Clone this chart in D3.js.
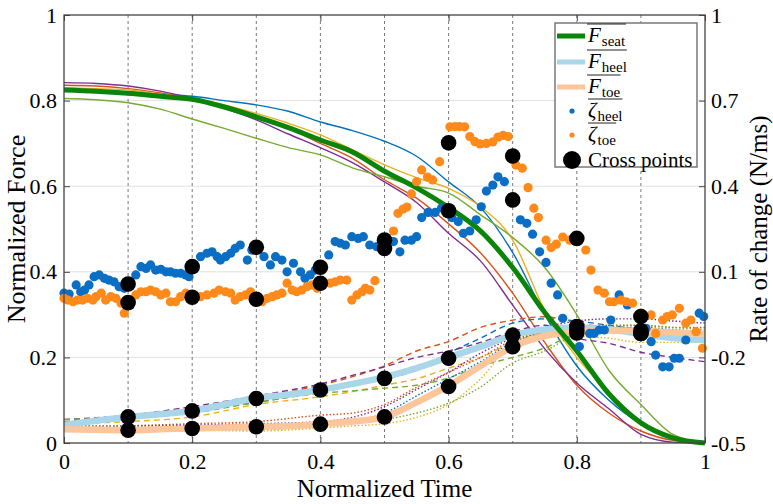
<!DOCTYPE html>
<html><head><meta charset="utf-8">
<script src="https://cdn.jsdelivr.net/npm/d3@7/dist/d3.min.js"></script>
<style>body{margin:0;background:#fff}svg{display:block}</style>
</head><body>
<svg id="c" width="773" height="504"></svg>
<script>
// ---------- DATA ----------
const tSeat = [0,0.05,0.1,0.15,0.2,0.25,0.3,0.35,0.4,0.45,0.5,0.55,0.6,0.65,0.7,0.75,0.8,0.85,0.9,0.95,1];
const seatMean   = [0.825,0.822,0.817,0.81,0.803,0.785,0.762,0.737,0.708,0.68,0.635,0.596,0.55,0.495,0.41,0.305,0.215,0.115,0.047,0.012,0];
const seatBlue   = [0.825,0.823,0.82,0.815,0.81,0.80,0.79,0.775,0.75,0.73,0.705,0.67,0.61,0.55,0.445,0.3,0.18,0.1,0.045,0.012,0];
const seatRed    = [0.836,0.834,0.828,0.818,0.805,0.788,0.765,0.735,0.70,0.665,0.615,0.572,0.512,0.444,0.35,0.235,0.135,0.07,0.028,0.006,0];
const seatYellow = [0.83,0.828,0.825,0.815,0.805,0.79,0.77,0.747,0.72,0.685,0.65,0.62,0.595,0.552,0.474,0.31,0.2,0.12,0.05,0.015,0];
const seatPurple = [0.842,0.84,0.834,0.822,0.805,0.782,0.755,0.722,0.69,0.655,0.61,0.562,0.49,0.425,0.322,0.22,0.14,0.08,0.02,0.002,0];
const seatGreen  = [0.805,0.802,0.795,0.78,0.757,0.735,0.712,0.69,0.673,0.643,0.622,0.6,0.584,0.533,0.48,0.41,0.30,0.17,0.09,0.02,0];
const heelMean = [0.042,0.052,0.061,0.067,0.075,0.09,0.105,0.113,0.124,0.138,0.154,0.175,0.2,0.225,0.252,0.265,0.27,0.265,0.255,0.245,0.24];
const toeMean  = [0.032,0.031,0.03,0.032,0.034,0.036,0.038,0.04,0.044,0.05,0.061,0.095,0.134,0.18,0.225,0.25,0.26,0.263,0.262,0.258,0.255];

const tFoot = [0,0.1,0.2,0.3,0.4,0.45,0.5,0.55,0.6,0.65,0.7,0.75,0.8,0.85,0.9,0.95,1];
const heelBlue   = [0.045,0.06,0.075,0.095,0.12,0.135,0.15,0.17,0.21,0.245,0.28,0.29,0.285,0.275,0.265,0.26,0.26];
const heelRed    = [0.05,0.062,0.08,0.105,0.135,0.155,0.18,0.215,0.237,0.27,0.287,0.295,0.28,0.27,0.265,0.26,0.25];
const heelPurple = [0.055,0.065,0.085,0.11,0.138,0.158,0.178,0.2,0.215,0.235,0.26,0.275,0.245,0.233,0.212,0.2,0.19];
const heelYellow = [0.045,0.05,0.061,0.09,0.108,0.12,0.135,0.15,0.175,0.2,0.235,0.26,0.27,0.27,0.265,0.26,0.255];
const heelGreen  = [0.055,0.06,0.07,0.095,0.116,0.122,0.128,0.135,0.152,0.18,0.2,0.222,0.255,0.26,0.255,0.25,0.245];
const toeRed    = [0.035,0.04,0.045,0.05,0.065,0.07,0.09,0.13,0.165,0.2,0.24,0.26,0.27,0.275,0.275,0.27,0.27];
const toePurple = [0.04,0.04,0.042,0.045,0.05,0.06,0.085,0.125,0.165,0.21,0.245,0.27,0.285,0.29,0.29,0.285,0.28];
const toeBlue   = [0.03,0.028,0.03,0.032,0.04,0.05,0.07,0.11,0.15,0.19,0.235,0.26,0.27,0.27,0.27,0.265,0.26];
const toeYellow = [0.035,0.032,0.03,0.028,0.035,0.04,0.045,0.06,0.09,0.15,0.233,0.255,0.25,0.245,0.235,0.235,0.235];
const toeGreen  = [0.04,0.038,0.036,0.035,0.04,0.045,0.055,0.07,0.093,0.131,0.187,0.215,0.255,0.27,0.275,0.27,0.265];

const zetaHeelT = [0,0.008,0.019,0.026,0.032,0.039,0.047,0.055,0.063,0.070,0.078,0.086,0.094,0.102,0.112,0.120,0.128,0.135,0.143,0.151,0.159,0.166,0.174,0.182,0.190,0.195,0.203,0.213,0.223,0.231,0.239,0.244,0.252,0.260,0.267,0.275,0.286,0.293,0.301,0.312,0.322,0.330,0.340,0.348,0.358,0.369,0.376,0.384,0.392,0.400,0.413,0.423,0.431,0.439,0.449,0.459,0.467,0.477,0.488,0.501,0.514,0.524,0.532,0.542,0.550,0.558,0.568,0.579,0.589,0.605,0.615,0.623,0.633,0.643,0.651,0.659,0.669,0.677,0.687,0.701,0.712,0.722,0.731,0.742,0.752,0.760,0.770,0.778,0.804,0.820,0.827,0.835,0.843,0.853,0.866,0.879,0.908,0.916,0.923,0.934,0.944,0.952,0.960,0.970,0.991,0.998];
const zetaHeelR = [0.025,0.022,0.054,0.030,0.036,0.054,0.083,0.089,0.077,0.071,0.065,0.048,0.042,0.060,0.089,0.118,0.112,0.124,0.106,0.109,0.100,0.100,0.095,0.095,0.089,0.083,0.124,0.153,0.165,0.170,0.153,0.141,0.153,0.165,0.182,0.194,0.141,0.176,0.188,0.153,0.124,0.153,0.141,0.100,0.130,0.100,0.077,0.089,0.106,0.118,0.159,0.206,0.200,0.194,0.223,0.217,0.223,0.194,0.188,0.202,0.206,0.170,0.211,0.211,0.223,0.290,0.308,0.308,0.324,0.290,0.276,0.235,0.243,0.282,0.328,0.383,0.404,0.433,0.416,0.345,0.282,0.270,0.232,0.170,0.133,0.060,0.019,-0.063,-0.162,-0.116,-0.116,-0.104,-0.104,-0.069,0.019,-0.016,-0.098,-0.145,-0.192,-0.233,-0.233,-0.203,-0.203,-0.139,-0.045,-0.057];
const zetaToeT = [0,0.006,0.014,0.021,0.029,0.037,0.045,0.050,0.058,0.065,0.073,0.081,0.089,0.094,0.102,0.112,0.120,0.128,0.135,0.143,0.151,0.159,0.166,0.174,0.182,0.190,0.200,0.213,0.223,0.234,0.242,0.252,0.260,0.267,0.275,0.283,0.291,0.301,0.309,0.317,0.325,0.332,0.340,0.348,0.356,0.363,0.371,0.379,0.387,0.395,0.403,0.415,0.423,0.431,0.441,0.449,0.457,0.465,0.470,0.477,0.485,0.514,0.521,0.529,0.535,0.542,0.550,0.558,0.567,0.575,0.586,0.602,0.610,0.617,0.625,0.633,0.641,0.649,0.659,0.669,0.677,0.685,0.693,0.705,0.715,0.724,0.733,0.740,0.752,0.760,0.768,0.778,0.789,0.799,0.814,0.822,0.833,0.843,0.851,0.858,0.869,0.877,0.887,0.900,0.916,0.923,0.934,0.941,0.949,0.960,0.970,0.978,0.986,0.996];
const zetaToeR = [0.007,0.001,-0.005,0.001,0.001,0.007,0.001,0.013,0.025,0.001,0.013,0.007,-0.010,-0.045,-0.005,0.019,0.030,0.030,0.036,0.030,0.019,0.025,-0.005,-0.005,0.013,0.025,0.013,0.013,0.019,0.025,0.036,0.030,0.025,0.001,0.013,0.019,0.030,0.001,-0.005,0.007,0.013,0.019,0.025,0.060,0.036,0.030,0.036,0.048,0.054,0.042,0.057,0.060,0.065,0.071,0.071,0.001,0.019,0.030,0.042,0.036,0.069,0.243,0.305,0.320,0.327,0.373,0.416,0.457,0.432,0.422,0.486,0.608,0.609,0.609,0.608,0.574,0.556,0.548,0.550,0.555,0.572,0.578,0.574,0.474,0.463,0.395,0.323,0.290,0.211,0.185,0.197,0.222,0.211,0.219,0.176,0.106,0.036,0.025,-0.005,-0.005,0.001,-0.005,-0.010,-0.045,-0.051,-0.116,-0.069,-0.057,-0.051,-0.028,-0.080,-0.069,-0.110,-0.168];

const crossT = [0.1,0.2,0.3,0.4,0.5,0.6,0.7,0.8,0.9];
const crossHeelRate  = [0.057,0.118,0.186,0.116,0.211,0.314,0.352,-0.092,-0.116];
const crossToeRate   = [-0.008,0.011,0.004,0.060,0.182,0.552,0.506,0.217,-0.057];
const crossHeelForce = [0.061,0.075,0.104,0.124,0.151,0.198,0.252,0.264,0.256];
const crossToeForce  = [0.030,0.034,0.038,0.044,0.061,0.132,0.225,0.257,0.262];

const xTicks = [0,0.2,0.4,0.6,0.8,1];
const yTicks = [0,0.2,0.4,0.6,0.8,1];
const rTicks = [-0.5,-0.2,0.1,0.4,0.7,1];
const vGrid = [0.1,0.2,0.3,0.4,0.5,0.6,0.7,0.8,0.9];
const hGrid = [0.2,0.4,0.6,0.8];

// ---------- STYLE ----------
const C = {blue:"#0072BD", red:"#D95319", yellow:"#EDB120", purple:"#7E2F8E", green:"#77AC30",
  seat:"#0a850a", heel:"#a9d6e8", toe:"#fcc59a", zHeel:"#0a6fc4", zToe:"#ff8a1a"};
const FONT = "Liberation Serif";
const L = 64, R = 705, T = 15, B = 443;
const txt = (sel, size) => sel.style("font-family", FONT).style("font-size", size + "px");

const svg = d3.select("#c");
const x = d3.scaleLinear([0,1],[L,R]);
const yL = d3.scaleLinear([0,1],[B,T]);
const yR = d3.scaleLinear([-0.5,1],[B,T]);

// grid
svg.append("g").selectAll("line").data(hGrid).join("line")
  .attr("x1",L).attr("x2",R).attr("y1",d=>yL(d)).attr("y2",d=>yL(d))
  .attr("stroke","#e2e2e2").attr("stroke-width",1);
svg.append("g").selectAll("line").data(vGrid).join("line")
  .attr("x1",d=>x(d)).attr("x2",d=>x(d)).attr("y1",T).attr("y2",B)
  .attr("stroke","#6a6a6a").attr("stroke-width",0.9).attr("stroke-dasharray","3,3");

const lineOf = (ts, yScale) => d3.line().x((d,i)=>x(ts[i])).y(d=>yScale(d)).curve(d3.curveMonotoneX);
function drawLine(ts, vals, color, width, dash){
  svg.append("path").datum(vals).attr("d", lineOf(ts,yL)).attr("fill","none")
    .attr("stroke",color).attr("stroke-width",width)
    .attr("stroke-dasharray",dash||null).attr("stroke-linejoin","round");
}
[[seatBlue,C.blue],[seatRed,C.red],[seatYellow,C.yellow],[seatPurple,C.purple],[seatGreen,C.green]]
  .forEach(([v,c])=>drawLine(tSeat,v,c,1.4));
[[heelBlue,C.blue],[heelRed,C.red],[heelYellow,C.yellow],[heelPurple,C.purple],[heelGreen,C.green]]
  .forEach(([v,c])=>drawLine(tFoot,v,c,1.4,"6,4"));
[[toeBlue,C.blue],[toeRed,C.red],[toeYellow,C.yellow],[toePurple,C.purple],[toeGreen,C.green]]
  .forEach(([v,c])=>drawLine(tFoot,v,c,1.4,"1.5,2"));
drawLine(tSeat, heelMean, C.heel, 6.5);
drawLine(tSeat, toeMean, C.toe, 6.5);
drawLine(tSeat, seatMean, C.seat, 5);

svg.append("g").selectAll("circle").data(d3.zip(zetaHeelT,zetaHeelR)).join("circle")
  .attr("cx",d=>x(d[0])).attr("cy",d=>yR(d[1])).attr("r",4.6).attr("fill",C.zHeel);
svg.append("g").selectAll("circle").data(d3.zip(zetaToeT,zetaToeR)).join("circle")
  .attr("cx",d=>x(d[0])).attr("cy",d=>yR(d[1])).attr("r",4.6).attr("fill",C.zToe);

const cg = svg.append("g");
[[crossHeelForce,yL],[crossToeForce,yL],[crossHeelRate,yR],[crossToeRate,yR]].forEach(([v,s])=>{
  cg.append("g").selectAll("circle").data(d3.zip(crossT,v)).join("circle")
    .attr("cx",d=>x(d[0])).attr("cy",d=>s(d[1])).attr("r",7.8).attr("fill","#000");
});

// axes
const fmt = d=>String(d);
function styleAxis(g){
  g.select(".domain").remove();
  g.selectAll(".tick line").attr("stroke","#444").attr("stroke-width",1);
  g.selectAll(".tick text").call(txt, 22).attr("fill","#000");
}
svg.append("g").attr("transform",`translate(0,${B})`)
  .call(d3.axisBottom(x).tickValues(xTicks).tickFormat(fmt).tickSize(-6).tickPadding(10)).call(styleAxis);
svg.append("g").attr("transform",`translate(0,${T})`)
  .call(d3.axisTop(x).tickValues(xTicks).tickFormat("").tickSize(-6)).call(styleAxis);
svg.append("g").attr("transform",`translate(${L},0)`)
  .call(d3.axisLeft(yL).tickValues(yTicks).tickFormat(fmt).tickSize(-6).tickPadding(7)).call(styleAxis);
svg.append("g").attr("transform",`translate(${R},0)`)
  .call(d3.axisRight(yR).tickValues(rTicks).tickFormat(fmt).tickSize(-6).tickPadding(6)).call(styleAxis);
svg.append("rect").attr("x",L).attr("y",T).attr("width",R-L).attr("height",B-T)
  .attr("fill","none").attr("stroke","#444").attr("stroke-width",1.3);

svg.append("text").attr("transform",`translate(25,${(T+B)/2}) rotate(-90)`).attr("text-anchor","middle")
  .call(txt, 26).text("Normalized Force");
svg.append("text").attr("transform",`translate(767,${(T+B)/2}) rotate(-90)`).attr("text-anchor","middle")
  .call(txt, 25).text("Rate of change (N/ms)");
svg.append("text").attr("x",(L+R)/2).attr("y",497).attr("text-anchor","middle")
  .call(txt, 25).text("Normalized Time");

// legend
const lg = svg.append("g");
lg.append("rect").attr("x",555).attr("y",23).attr("width",142).attr("height",144)
  .attr("fill","#fff").attr("stroke","#7a7a7a").attr("stroke-width",1.5);
const rows = [
  {kind:"line", color:C.seat, w:5, main:"F", sub:"seat", y:36},
  {kind:"line", color:C.heel, w:5, main:"F", sub:"heel", y:62},
  {kind:"line", color:C.toe, w:5, main:"F", sub:"toe", y:87},
  {kind:"dot", color:C.zHeel, r:2.6, main:"ζ", sub:"heel", y:111},
  {kind:"dot", color:C.zToe, r:2.6, main:"ζ", sub:"toe", y:135},
  {kind:"dot", color:"#000", r:9, text:"Cross points", y:160}
];
rows.forEach(r=>{
  if(r.kind==="line") lg.append("line").attr("x1",557).attr("x2",585).attr("y1",r.y).attr("y2",r.y)
    .attr("stroke",r.color).attr("stroke-width",r.w);
  else lg.append("circle").attr("cx",572).attr("cy",r.y).attr("r",r.r).attr("fill",r.color);
  if(r.text){
    lg.append("text").attr("x",588).attr("y",r.y+7).call(txt, 21).text(r.text);
  } else {
    const base = r.y+6;
    const t = lg.append("text").attr("x",588).attr("y",base).call(txt, 21);
    t.append("tspan").style("font-style","italic").text(r.main);
    t.append("tspan").style("font-size","15px").attr("dy",4).attr("dx",1).text(r.sub);
    const bb = t.node().getBBox();
    lg.append("line").attr("x1",bb.x).attr("x2",bb.x+bb.width).attr("y1",base-18).attr("y2",base-18)
      .attr("stroke","#222").attr("stroke-width",1);
  }
});
</script>
</body></html>
